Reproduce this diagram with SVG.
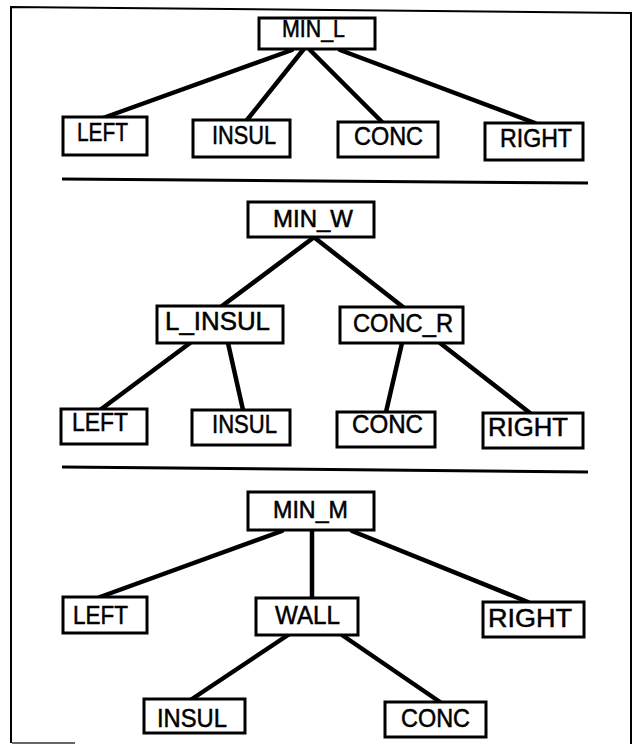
<svg xmlns="http://www.w3.org/2000/svg" width="635" height="744" viewBox="0 0 635 744">
  <style>
    .box { fill: #fff; stroke: #000; stroke-width: 3; }
    .lbl { font-family: "Liberation Sans", Arial, Helvetica, sans-serif; font-size: 25px; fill: #000; stroke: #000; stroke-width: 0.5; }
    .sm { font-size: 23px; }
    .edge { stroke: #000; stroke-width: 4.5; stroke-linecap: round; fill: none; }
    .rule { stroke: #000; stroke-width: 3; fill: none; }
    .frame { stroke: #000; stroke-width: 2; fill: none; }
  </style>

  <rect x="0" y="0" width="635" height="744" fill="#fff"/>

  <!-- outer frame -->
  <path class="frame" d="M11,743 L11,7 L631,13 L631,744"/>
  <line x1="12" y1="743" x2="75" y2="743" stroke="#666" stroke-width="2"/>

  <!-- section dividers -->
  <line class="rule" x1="62" y1="179" x2="588" y2="183"/>
  <line class="rule" x1="62" y1="467" x2="588" y2="472"/>

  <g id="connectors">
    <!-- MIN_L -->
    <line class="edge" x1="292" y1="50" x2="103" y2="118"/>
    <line class="edge" x1="303" y1="50" x2="247" y2="120"/>
    <line class="edge" x1="310" y1="50" x2="382" y2="122"/>
    <line class="edge" x1="340" y1="50" x2="535" y2="123"/>
    <!-- MIN_W -->
    <line class="edge" x1="313" y1="238" x2="222" y2="306"/>
    <line class="edge" x1="315" y1="238" x2="403" y2="307"/>
    <line class="edge" x1="190" y1="343" x2="100" y2="410"/>
    <line class="edge" x1="228" y1="343" x2="243" y2="410"/>
    <line class="edge" x1="402" y1="343" x2="386" y2="412"/>
    <line class="edge" x1="440" y1="343" x2="530" y2="413"/>
    <!-- MIN_M -->
    <line class="edge" x1="282" y1="531" x2="100" y2="597"/>
    <line class="edge" x1="312" y1="531" x2="312" y2="598"/>
    <line class="edge" x1="352" y1="531" x2="528" y2="602"/>
    <line class="edge" x1="288" y1="635" x2="192" y2="699"/>
    <line class="edge" x1="342" y1="635" x2="440" y2="702"/>
  </g>

  <!-- tree 1 -->
  <g id="min_l"><rect class="box" x="259" y="18" width="116" height="31"/><text class="lbl sm" x="282" y="37" textLength="63" lengthAdjust="spacingAndGlyphs">MIN_L</text></g>
  <g id="left_1"><rect class="box" x="63" y="117" width="84" height="38"/><text class="lbl" x="77" y="141" textLength="51" lengthAdjust="spacingAndGlyphs">LEFT</text></g>
  <g id="insul_1"><rect class="box" x="193" y="120" width="97" height="37"/><text class="lbl" x="212" y="144" textLength="64" lengthAdjust="spacingAndGlyphs">INSUL</text></g>
  <g id="conc_1"><rect class="box" x="338" y="122" width="100" height="35"/><text class="lbl" x="354" y="145" textLength="69" lengthAdjust="spacingAndGlyphs">CONC</text></g>
  <g id="right_1"><rect class="box" x="485" y="123" width="98" height="37"/><text class="lbl" x="500" y="147" textLength="72" lengthAdjust="spacingAndGlyphs">RIGHT</text></g>

  <!-- tree 2 -->
  <g id="min_w"><rect class="box" x="248" y="202" width="126" height="35"/><text class="lbl sm" x="273" y="227" textLength="80" lengthAdjust="spacingAndGlyphs">MIN_W</text></g>
  <g id="l_insul"><rect class="box" x="157" y="306" width="126" height="37"/><text class="lbl" x="165" y="330" textLength="105" lengthAdjust="spacingAndGlyphs">L_INSUL</text></g>
  <g id="conc_r"><rect class="box" x="340" y="307" width="123" height="36"/><text class="lbl" x="353" y="332" textLength="100" lengthAdjust="spacingAndGlyphs">CONC_R</text></g>
  <g id="left_2"><rect class="box" x="61" y="409" width="86" height="35"/><text class="lbl" x="72" y="431" textLength="56" lengthAdjust="spacingAndGlyphs">LEFT</text></g>
  <g id="insul_2"><rect class="box" x="192" y="410" width="98" height="35"/><text class="lbl" x="212" y="433" textLength="65" lengthAdjust="spacingAndGlyphs">INSUL</text></g>
  <g id="conc_2"><rect class="box" x="337" y="412" width="98" height="35"/><text class="lbl" x="352" y="433" textLength="71" lengthAdjust="spacingAndGlyphs">CONC</text></g>
  <g id="right_2"><rect class="box" x="483" y="413" width="100" height="35"/><text class="lbl" x="488" y="436" textLength="80" lengthAdjust="spacingAndGlyphs">RIGHT</text></g>

  <!-- tree 3 -->
  <g id="min_m"><rect class="box" x="248" y="492" width="126" height="38"/><text class="lbl sm" x="273" y="518" textLength="75" lengthAdjust="spacingAndGlyphs">MIN_M</text></g>
  <g id="left_3"><rect class="box" x="63" y="597" width="84" height="36"/><text class="lbl" x="73" y="624" textLength="55" lengthAdjust="spacingAndGlyphs">LEFT</text></g>
  <g id="wall"><rect class="box" x="256" y="598" width="102" height="37"/><text class="lbl" x="275" y="624" textLength="65" lengthAdjust="spacingAndGlyphs">WALL</text></g>
  <g id="right_3"><rect class="box" x="483" y="602" width="101" height="35"/><text class="lbl" x="488" y="627" textLength="84" lengthAdjust="spacingAndGlyphs">RIGHT</text></g>
  <g id="insul_3"><rect class="box" x="144" y="699" width="101" height="34"/><text class="lbl" x="157" y="727" textLength="70" lengthAdjust="spacingAndGlyphs">INSUL</text></g>
  <g id="conc_3"><rect class="box" x="385" y="702" width="101" height="35"/><text class="lbl" x="401" y="727" textLength="69" lengthAdjust="spacingAndGlyphs">CONC</text></g>
</svg>
